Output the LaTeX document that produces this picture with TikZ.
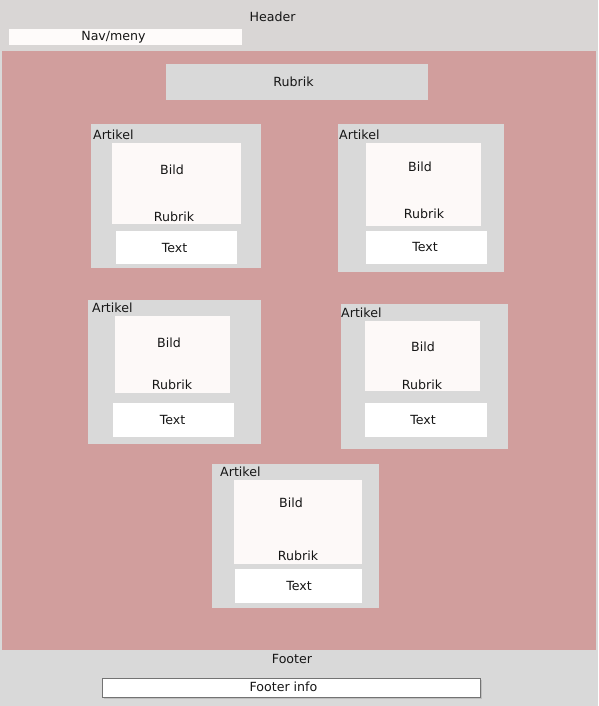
\documentclass[tikz,border=0pt]{standalone}
\usepackage{fontspec}
\setmainfont{DejaVu Sans}
\definecolor{hdrgray}{RGB}{217,214,213}
\definecolor{boxgray}{RGB}{217,217,217}
\definecolor{pinkbg}{RGB}{209,158,157}
\definecolor{imgfill}{RGB}{253,249,248}
\definecolor{navfill}{RGB}{254,251,250}
\definecolor{txtcol}{RGB}{22,22,22}
\newcommand\mkbox[6]{\node[area, fill=#6, minimum width={(#4-#2)*1pt}, minimum height={(#5-#3)*1pt}] (#1) at (#2,#3) {};}
\tikzset{
  area/.style={rectangle, draw=none, inner sep=0pt, outer sep=0pt, anchor=north west},
  lbl/.style={font=\fontsize{12.6}{14}\selectfont, text=txtcol, inner sep=0pt},
  artlbl/.style={lbl, anchor=west},
}
\begin{document}
\begin{tikzpicture}[x=1pt,y=-1pt]
\useasboundingbox (0,0) rectangle (598,706);
% page areas
\mkbox{page}{0}{0}{598}{706}{boxgray}
\mkbox{header}{0}{0}{598}{51}{hdrgray}
\mkbox{main}{2}{51}{596}{650}{pinkbg}
\mkbox{footer}{0}{650}{598}{706}{boxgray}
% header
\node[lbl] (headertxt) at (272.5,17) {Header};
\mkbox{nav}{9}{29}{242}{45}{navfill}
\node[lbl] (navtxt) at (113.5,37) {Nav/meny};
% main heading
\mkbox{rubrik}{166}{64}{428}{100}{boxgray}
\node[lbl] (rubriktxt) at (293.5,82) {Rubrik};
% card 1
\mkbox{a1}{91}{124}{261}{268}{boxgray}
\node[artlbl] (a1l) at (93,135) {Artikel};
\mkbox{a1b}{112}{143}{241}{224}{imgfill}
\node[lbl] (a1bt) at (172,170) {Bild};
\node[lbl] (a1rt) at (174,217) {Rubrik};
\mkbox{a1t}{116}{231}{237}{264}{white}
\node[lbl] (a1tt) at (174.5,248) {Text};
% card 2
\mkbox{a2}{338}{124}{504}{272}{boxgray}
\node[artlbl] (a2l) at (339,135) {Artikel};
\mkbox{a2b}{366}{143}{481}{226}{imgfill}
\node[lbl] (a2bt) at (420,167) {Bild};
\node[lbl] (a2rt) at (424,214) {Rubrik};
\mkbox{a2t}{366}{231}{487}{264}{white}
\node[lbl] (a2tt) at (425,247) {Text};
% card 3
\mkbox{a3}{88}{300}{261}{444}{boxgray}
\node[artlbl] (a3l) at (92,308) {Artikel};
\mkbox{a3b}{115}{316}{230}{393}{imgfill}
\node[lbl] (a3bt) at (169,343) {Bild};
\node[lbl] (a3rt) at (172,385) {Rubrik};
\mkbox{a3t}{113}{403}{234}{437}{white}
\node[lbl] (a3tt) at (172.5,420) {Text};
% card 4
\mkbox{a4}{341}{304}{508}{449}{boxgray}
\node[artlbl] (a4l) at (341,313) {Artikel};
\mkbox{a4b}{365}{321}{480}{391}{imgfill}
\node[lbl] (a4bt) at (423,347) {Bild};
\node[lbl] (a4rt) at (422,385) {Rubrik};
\mkbox{a4t}{365}{403}{487}{437}{white}
\node[lbl] (a4tt) at (423,420) {Text};
% card 5
\mkbox{a5}{212}{464}{379}{608}{boxgray}
\node[artlbl] (a5l) at (220,472) {Artikel};
\mkbox{a5b}{234}{480}{362}{564}{imgfill}
\node[lbl] (a5bt) at (291,503) {Bild};
\node[lbl] (a5rt) at (298,556) {Rubrik};
\mkbox{a5t}{235}{569}{362}{603}{white}
\node[lbl] (a5tt) at (299,586) {Text};
% footer
\node[lbl] (footertxt) at (292,659) {Footer};
\node[area, fill=black!25, minimum width=378pt, minimum height=19.5pt] (fshadow) at (103.5,679.8) {};
\node[area, fill=white, draw=black!55, line width=0.9pt, minimum width=378pt, minimum height=19.5pt] (finfo) at (102.3,678.3) {};
\node[lbl] (finfotxt) at (283.5,687) {Footer info};
\end{tikzpicture}
\end{document}
